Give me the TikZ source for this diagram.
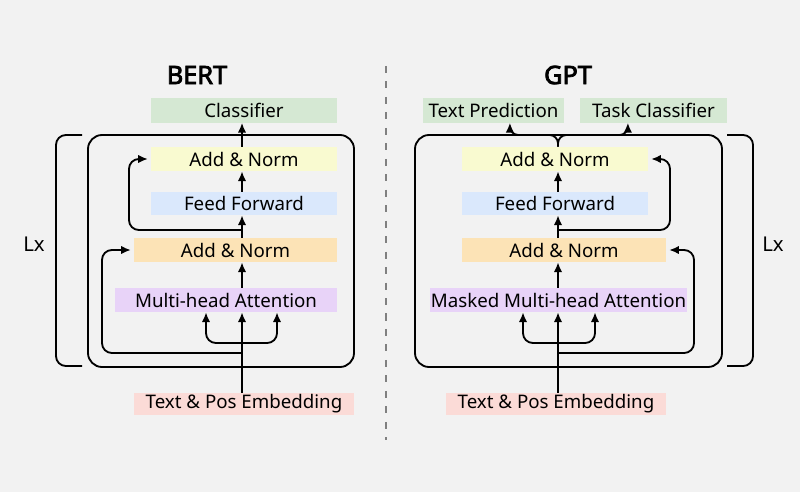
\documentclass[tikz,border=0pt]{standalone}
\usepackage{fontspec}
\setmainfont{Noto Sans}[AutoFakeBold=3]
\usepackage{xcolor}
\usepackage{tikz}
\usetikzlibrary{arrows.meta, positioning, calc}

\definecolor{bggray}{HTML}{F2F2F2}
\definecolor{clsgreen}{HTML}{D5E8D3}
\definecolor{normyellow}{HTML}{F9FAD0}
\definecolor{ffblue}{HTML}{DAE8FC}
\definecolor{normorange}{HTML}{FCE3B6}
\definecolor{attpurple}{HTML}{E8D3F8}
\definecolor{embpink}{HTML}{FBDBD7}

\begin{document}
\begin{tikzpicture}[x=0.025cm, y=-0.025cm,
    layer/.style={inner sep=0pt, minimum height=0.6cm, font=\fontsize{13.3}{15}\selectfont},
    wire/.style={line width=1.3pt, black},
    arr/.style={wire, -{Latex[length=7pt, width=6pt]}},
    title/.style={font=\fontsize{18}{20}\selectfont\bfseries}]
    \fill[bggray] (0,0) rectangle (800,492);
    \useasboundingbox (0,0) rectangle (800,492);
    \draw[gray, line width=1pt, dash pattern=on 5pt off 6pt] (386,66) -- (386,440);

    \begin{scope}
    \node[title] (bert) at (197,75) {BERT};
    \node[layer, fill=clsgreen, minimum width=4.65cm] (bcls) at (244,110.5) {Classifier};
    \node[layer, fill=normyellow, minimum width=4.65cm] (ban2) at (244,159) {Add \& Norm};
    \node[layer, fill=ffblue, minimum width=4.65cm, minimum height=0.575cm] (bff) at (244,203.5) {Feed Forward};
    \node[layer, fill=normorange, minimum width=5.075cm] (ban1) at (235.5,250) {Add \& Norm};
    \node[layer, fill=attpurple, minimum width=5.55cm] (batt) at (226,300) {Multi-head Attention};
    \node[layer, fill=embpink, minimum width=5.5cm, minimum height=0.55cm] (bemb) at (244,404) {Text \& Pos Embedding};
    \node[font=\fontsize{14.5}{16}\selectfont] (blx) at (34,244) {Lx};
    \draw[wire, rounded corners=10] (88,135) rectangle (354,367);
    \draw[wire, rounded corners=7] (82,135) -- (56,135) -- (56,366) -- (82,366);
    \coordinate (bx) at (242,0);
    \coordinate (bres1) at (102,353);
    \coordinate (bres2) at (129,230);
    \coordinate (bforkl) at (206,343);
    \coordinate (bforkr) at (277,343);
    \draw[arr] (bemb.north -| bx) -- (batt.south -| bx);
    \draw[arr] (batt.north -| bx) -- (ban1.south -| bx);
    \draw[arr] (ban1.north -| bx) -- (bff.south -| bx);
    \draw[arr] (bff.north -| bx) -- (ban2.south -| bx);
    \draw[arr] (ban2.north -| bx) -- (bcls.south -| bx);
    \draw[arr, rounded corners=7] (bx |- bres1) -- (bres1) |- ([xshift=-2pt]ban1.west);
    \draw[arr, rounded corners=7] (bx |- bres2) -- (bres2) |- ([xshift=-2pt]ban2.west);
    \draw[arr, rounded corners=7] (bx |- bforkl) -- (bforkl) -- (batt.south -| bforkl);
    \draw[arr, rounded corners=7] (bx |- bforkr) -- (bforkr) -- (batt.south -| bforkr);
    \end{scope}

    \begin{scope}
    \node[title] (gpt) at (568,75) {GPT};
    \node[layer, fill=clsgreen, minimum width=3.525cm] (gtp) at (493.5,110.5) {Text Prediction};
    \node[layer, fill=clsgreen, minimum width=3.675cm] (gtc) at (653.5,110.5) {Task Classifier};
    \node[layer, fill=normyellow, minimum width=4.65cm] (gan2) at (555,159) {Add \& Norm};
    \node[layer, fill=ffblue, minimum width=4.65cm, minimum height=0.575cm] (gff) at (555,203.5) {Feed Forward};
    \node[layer, fill=normorange, minimum width=5.1cm] (gan1) at (564,250) {Add \& Norm};
    \node[layer, fill=attpurple, minimum width=6.425cm] (gatt) at (558.5,300) {Masked Multi-head Attention};
    \node[layer, fill=embpink, minimum width=5.5cm, minimum height=0.55cm] (gemb) at (556,404) {Text \& Pos Embedding};
    \node[font=\fontsize{14.5}{16}\selectfont] (glx) at (773,244) {Lx};
    \draw[wire, rounded corners=10] (415,135) rectangle (722,367);
    \draw[wire, rounded corners=7] (727,135) -- (753,135) -- (753,366) -- (727,366);
    \coordinate (gx) at (558,0);
    \coordinate (gres1) at (694,353);
    \coordinate (gres2) at (670,230);
    \coordinate (gforkl) at (523,343);
    \coordinate (gforkr) at (595,343);
    \coordinate (gsplit) at (558,135);
    \draw[arr] (gemb.north -| gx) -- (gatt.south -| gx);
    \draw[arr] (gatt.north -| gx) -- (gan1.south -| gx);
    \draw[arr] (gan1.north -| gx) -- (gff.south -| gx);
    \draw[arr] (gff.north -| gx) -- (gan2.south -| gx);
    \draw[arr, rounded corners=6] (gan2.north -| gx) -- (gsplit) -| ([xshift=0.41cm]gtp.south);
    \draw[arr, rounded corners=6] (gan2.north -| gx) -- (gsplit) -| ([xshift=-0.64cm]gtc.south);
    \draw[arr, rounded corners=7] (gx |- gres1) -- (gres1) |- ([xshift=2pt]gan1.east);
    \draw[arr, rounded corners=7] (gx |- gres2) -- (gres2) |- ([xshift=2pt]gan2.east);
    \draw[arr, rounded corners=7] (gx |- gforkl) -- (gforkl) -- (gatt.south -| gforkl);
    \draw[arr, rounded corners=7] (gx |- gforkr) -- (gforkr) -- (gatt.south -| gforkr);
    \end{scope}
\end{tikzpicture}
\end{document}
